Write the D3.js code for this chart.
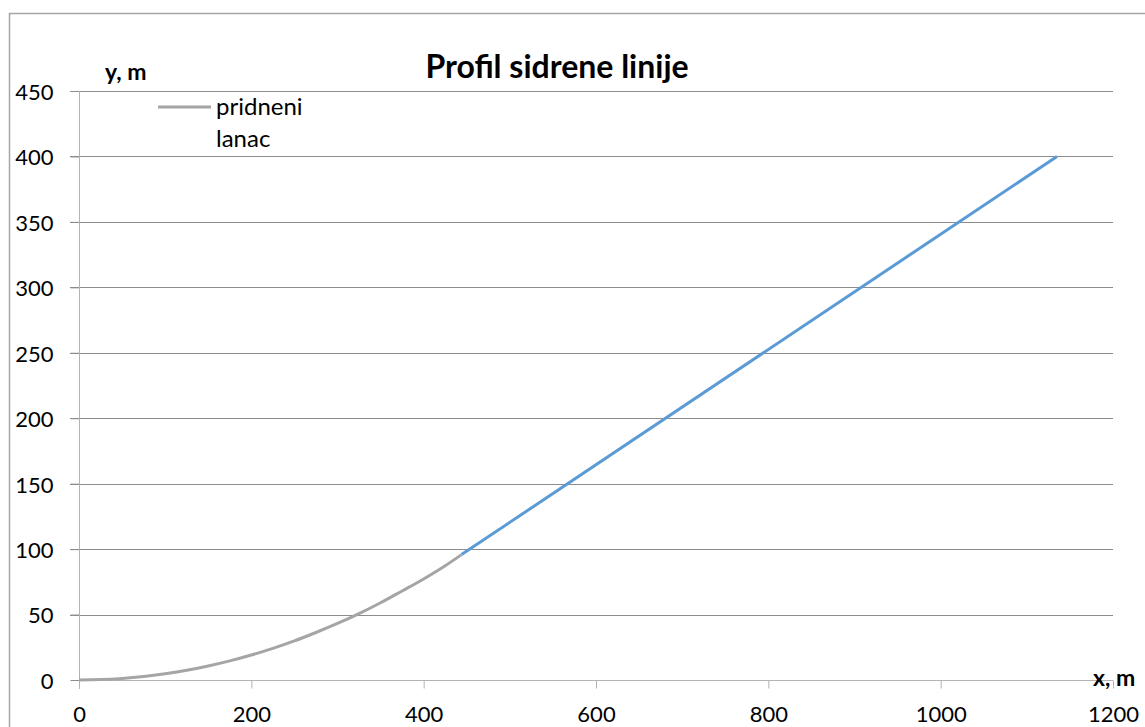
<!DOCTYPE html>
<html>
<head>
<meta charset="utf-8">
<script src="https://cdn.jsdelivr.net/npm/d3@7"></script>
<style>
  body { margin: 0; background: #fff; }
  svg { font-family: Lato, "Open Sans", sans-serif; }
</style>
</head>
<body>
<div id="chart"></div>
<script>
// values
const chainX = [0, 25, 50, 75, 100, 125, 150, 175, 200, 225, 250, 275, 300, 325, 350, 375, 400, 425, 444]
const chainY = [0, 0.3, 1.2, 2.7, 4.8, 7.4, 10.7, 14.6, 19.1, 24.2, 29.9, 36.3, 43.2, 50.7, 59, 68, 77.2, 87.3, 95.8]
const ropeX = [444, 1135]
const ropeY = [95.8, 400]
const xTicks = [0, 200, 400, 600, 800, 1000, 1200]
const yTicks = [0, 50, 100, 150, 200, 250, 300, 350, 400, 450]

const w = 1145, h = 727

const svg = d3.select("#chart").append("svg")
  .attr("width", w)
  .attr("height", h)

// outer chart frame (only top and left visible)
svg.append("rect")
  .attr("x", 9.5).attr("y", 13.5)
  .attr("width", 1200).attr("height", 800)
  .attr("fill", "none")
  .attr("stroke", "#a6a6a6")
  .attr("stroke-width", 1.5)

const xScale = d3.scaleLinear().domain([0, 1200]).range([79, 1113])
const yScale = d3.scaleLinear().domain([0, 450]).range([680, 91])

// gridlines
svg.append("g")
  .selectAll("line")
  .data(yTicks.filter(d => d > 0))
  .enter()
  .append("line")
  .attr("x1", 70).attr("x2", xScale(1200))
  .attr("y1", d => Math.round(yScale(d)) + 0.5)
  .attr("y2", d => Math.round(yScale(d)) + 0.5)
  .style("stroke", "#8c8c8c")

// y axis
const yAxis = d3.axisLeft(yScale).tickValues(yTicks).tickSize(9).tickSizeOuter(0).tickPadding(17)
const gy = svg.append("g")
  .attr("transform", "translate(79.5,0)")
  .call(yAxis)
  .attr("font-family", null)
gy.select(".domain").remove()
gy.selectAll(".tick line").style("stroke", "#8c8c8c")
gy.append("line").attr("y1", yScale(450)).attr("y2", 689).style("stroke", "#b3b3b3")
gy.selectAll("text").style("font-size", "22px").style("fill", "#000").attr("dy", "0.38em")

// x axis
const xAxis = d3.axisBottom(xScale).tickValues(xTicks).tickSize(8).tickSizeOuter(0).tickPadding(18)
  .tickFormat(d3.format("d"))
const gx = svg.append("g")
  .attr("transform", "translate(0,680.5)")
  .call(xAxis)
  .attr("font-family", null)
gx.select(".domain").style("stroke", "#b3b3b3").attr("d", "M" + xScale(0) + ",0H" + xScale(1200))
gx.selectAll(".tick line").style("stroke", "#b3b3b3")
gx.selectAll("text").style("font-size", "22px").style("fill", "#000")

// series
const line = d3.line()
  .x(d => xScale(d[0]))
  .y(d => yScale(d[1]))
  .curve(d3.curveMonotoneX)

svg.append("path")
  .datum(ropeX.map((x, i) => [x, ropeY[i]]))
  .attr("d", line)
  .attr("fill", "none")
  .attr("stroke", "#5b9bd5")
  .attr("stroke-width", 3)

svg.append("path")
  .datum(chainX.map((x, i) => [x, chainY[i]]))
  .attr("d", line)
  .attr("fill", "none")
  .attr("stroke", "#a5a5a5")
  .attr("stroke-width", 3)

// title and axis names
svg.append("text")
  .attr("x", 557).attr("y", 78)
  .attr("text-anchor", "middle")
  .style("font-size", "32px").style("font-weight", "bold")
  .text("Profil sidrene linije")

svg.append("text")
  .attr("x", 105).attr("y", 80)
  .style("font-size", "23px").style("font-weight", "bold")
  .text("y, m")

svg.append("text")
  .attr("x", 1093).attr("y", 686)
  .style("font-size", "23px").style("font-weight", "bold")
  .text("x, m")

// legend
svg.append("line")
  .attr("x1", 158).attr("x2", 211)
  .attr("y1", 107).attr("y2", 107)
  .attr("stroke", "#a5a5a5").attr("stroke-width", 3)
svg.append("text").attr("x", 216).attr("y", 115)
  .style("font-size", "24px").text("pridneni")
svg.append("text").attr("x", 216).attr("y", 147)
  .style("font-size", "24px").text("lanac")
</script>
</body>
</html>
